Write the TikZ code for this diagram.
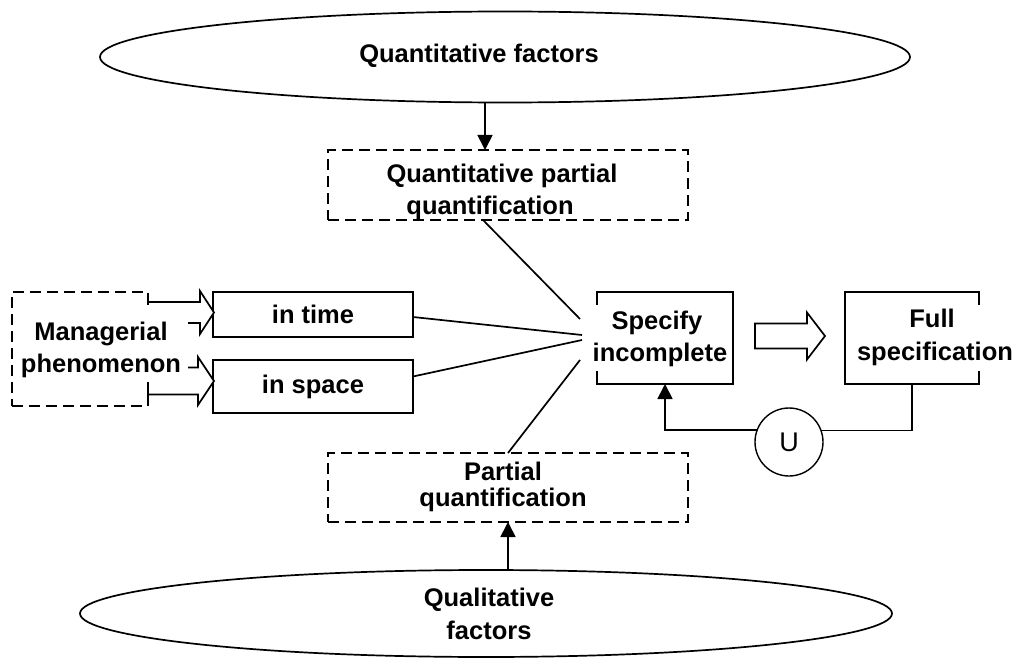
\documentclass[tikz,border=0pt]{standalone}
\usepackage{fontspec}
\setmainfont{Liberation Sans}
\usetikzlibrary{calc,arrows.meta,shapes.geometric}
% hollow block arrow: tail point, tip point, shaft half-width, head half-width, head length
\newcommand\hollowarr[5]{%
  \draw[hollow] ($(#1)+(0,-#3)$) -- ($(#2)+(-#5,-#3)$) -- ($(#2)+(-#5,-#4)$) -- (#2)
    -- ($(#2)+(-#5,#4)$) -- ($(#2)+(-#5,#3)$) -- ($(#1)+(0,#3)$) -- cycle;}
\begin{document}
\begin{tikzpicture}[x=1pt,y=-1pt,
  every node/.style={inner sep=0pt, outer sep=0pt},
  lbl/.style={font=\fontsize{25.5}{32}\selectfont\bfseries, align=center},
  oval/.style={draw, ellipse, line width=1.7pt},
  dbox/.style={draw, dash pattern=on 11pt off 6pt, line width=1.7pt},
  sbox/.style={draw, line width=1.7pt},
  link/.style={line width=1.7pt},
  arr/.style={line width=1.7pt, -{Triangle[length=15pt,width=15pt]}},
  hollow/.style={line width=1.7pt, fill=white, line join=miter},
]
\useasboundingbox (0,0) rectangle (1018,658);

% factor ellipses
\node[oval, minimum width=810pt, minimum height=91pt] (qf) at (505,57) {};
\node[lbl, anchor=base] (qft) at (479,63) {Quantitative factors};
\node[oval, minimum width=812pt, minimum height=87pt] (qlf) at (486,613.5) {};
\node[lbl] (qlft) at (489,614.3) {Qualitative\\[1pt]factors};

% partial quantification boxes
\node[dbox, minimum width=360pt, minimum height=70pt] (tq) at (508,185) {};
\node[lbl] (tqt) at (502,192.25) {Quantitative partial\\quantification\hspace*{24pt}};
\node[dbox, minimum width=360pt, minimum height=69pt] (pq) at (508,487.5) {};
\node[lbl] (pqt) at (503,486.5) {Partial\\[-6pt]quantification};

% managerial phenomenon and its two aspects
\node[dbox, minimum width=136pt, minimum height=114pt] (mp) at (80,349) {};
\node[sbox, minimum width=200pt, minimum height=45pt, lbl] (it) at (313,314.5) {in time};
\node[sbox, minimum width=200pt, minimum height=53pt, lbl] (is) at (313,386.5) {in space};

\coordinate (t1) at ($(it.west)+(1,-2)$);
\coordinate (s1) at (mp.east |- t1);
\hollowarr{s1}{t1}{10.5}{21.5}{14}
\coordinate (t2) at ($(is.west)+(1,-5.5)$);
\coordinate (s2) at (mp.east |- t2);
\hollowarr{s2}{t2}{13.5}{24}{16}

\fill[white] ($(mp.north east)+(-134,13)$) rectangle ($(mp.north east)+(40,90)$);
\node[lbl] (mpt) at (101,349.5) {Managerial\\phenomenon};

% specification boxes
\node[minimum width=136pt, minimum height=92pt] (si) at (665,338) {};
\draw[link] ($(si.north west)+(0,13)$) -- (si.north west) -- (si.north east)
  -- (si.south east) -- (si.south west) -- ++(0,-13);
\node[lbl] (sit) at (660,339.25) {Specify\hspace*{6pt}\\incomplete};

\node[minimum width=134pt, minimum height=92pt] (fs) at (912,338) {};
\draw[link] ($(fs.north east)+(0,13)$) -- (fs.north east) -- (fs.north west)
  -- (fs.south west) -- (fs.south east) -- ++(0,-13);
\node[lbl] (fst) at (935,337) {Full\hspace*{6pt}\\[1pt]specification};

\coordinate (s3) at ($(si.east)+(22,-2)$);
\coordinate (t3) at ($(fs.west)+(-20,-2)$);
\hollowarr{s3}{t3}{12.5}{23.5}{18}

% union feedback loop
\node[draw, circle, minimum size=68pt, line width=1.4pt, font=\fontsize{27}{27}\selectfont] (u) at (789,442) {U};
\draw[link] (fs.south) |- (u.20.7);
\draw[arr] (u.159.3) -| (si.south);

% inputs to the incomplete specification
\coordinate (c1) at ($(si.west)+(-17,-19)$);
\coordinate (c2) at ($(si.west)+(-15,-3)$);
\coordinate (c3) at ($(si.west)+(-15,2)$);
\coordinate (c4) at ($(si.west)+(-17,22)$);
\draw[link] ($(tq.south)+(-25,0)$) -- (c1);
\draw[link] ($(it.east)+(0,2.5)$) -- (c2);
\draw[link] ($(is.east)+(0,-10)$) -- (c3);
\draw[link] (pq.north) -- (c4);

% factor arrows
\coordinate (tqin) at ($(tq.north)+(-23,0)$);
\draw[arr] (tqin |- qf.south) -- (tqin);
\draw[arr] (pq.south |- qlf.north) -- (pq.south);
\end{tikzpicture}
\end{document}
